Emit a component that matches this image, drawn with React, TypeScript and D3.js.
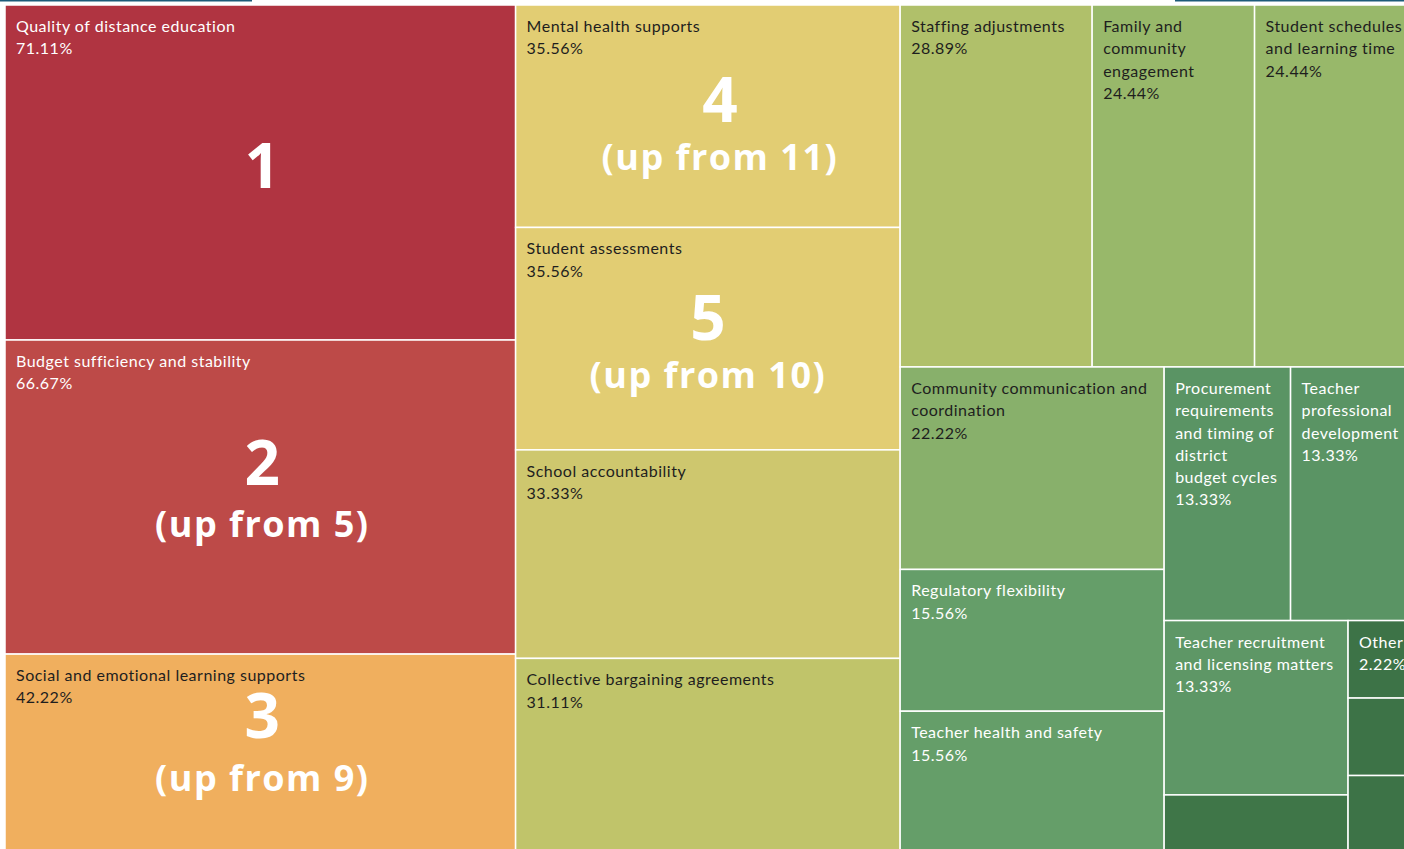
import React from "react";
import * as d3 from "d3";

// ---- data ----
const categories: string[] = [
  "Quality of distance education",
  "Budget sufficiency and stability",
  "Social and emotional learning supports",
  "Mental health supports",
  "Student assessments",
  "School accountability",
  "Collective bargaining agreements",
  "Staffing adjustments",
  "Family and\ncommunity\nengagement",
  "Student schedules\nand learning time",
  "Community communication and\ncoordination",
  "Regulatory flexibility",
  "Teacher health and safety",
  "Procurement\nrequirements\nand timing of\ndistrict\nbudget cycles",
  "Teacher\nprofessional\ndevelopment",
  "Teacher recruitment\nand licensing matters",
  "",
  "Other",
  "",
  "",
];
const shares: number[] = [
  71.11, 66.67, 42.22, 35.56, 35.56, 33.33, 31.11, 28.89, 24.44, 24.44,
  22.22, 15.56, 15.56, 13.33, 13.33, 13.33, 4.44, 2.22, 2.22, 2.22,
];
const fills: string[] = [
  "#b03441", "#bd4a48", "#f0af5e", "#e2cd73", "#e2cd73", "#cec76e", "#c0c46a",
  "#b0c06a", "#98b86a", "#98b86a", "#88b06b", "#659e69", "#659e69", "#5a9464",
  "#5a9464", "#5e9766", "#3f7648", "#3d7347", "#3d7347", "#3d7347",
];
const lightText: boolean[] = [
  true, true, false, false, false, false, false, false, false, false,
  false, true, true, true, true, true, true, true, true, true,
];
const rankCategory: number[] = [0, 1, 2, 3, 4];
const rankLabels: string[] = ["1", "2", "3", "4", "5"];
const upFromLabels: string[] = ["", "(up from 5)", "(up from 9)", "(up from 11)", "(up from 10)"];

// ---- layout / style ----
const W = 1404;
const H = 849;
const X0 = 5;
const Y0 = 5;
const TW = 1412;
const TH = 848;
// baseline offsets relative to cell center (number, second line), and x offset
const rankOffsets = [
  { dx: 2, n: 15, s: 0 },
  { dx: 2, n: -12, s: 40 },
  { dx: 2, n: -16, s: 37 },
  { dx: 12, n: 6, s: 54 },
  { dx: 0, n: 1, s: 49 },
];

type Leaf = { name: string; value: number; idx: number };

export default function App() {
  const leaves: Leaf[] = categories.map((c, i) => ({ name: c, value: shares[i], idx: i }));
  const root = d3
    .hierarchy<any>({ children: leaves })
    .sum((d: any) => (d.children ? 0 : d.value))
    .sort((a, b) => (b.value ?? 0) - (a.value ?? 0));
  d3.treemap<any>().tile(d3.treemapSquarify).size([TW, TH]).round(false)(root);
  const nodes = root.leaves() as d3.HierarchyRectangularNode<any>[];
  const byIdx = new Map<number, d3.HierarchyRectangularNode<any>>();
  nodes.forEach((n) => byIdx.set(n.data.idx, n));
  const fmt = (v: number) => v.toFixed(2) + "%";
  const labelFont = "Lato, 'Noto Sans', sans-serif";
  const bigFont = "'Open Sans', 'Noto Sans', sans-serif";

  return (
    <div style={{ position: "absolute", left: 0, top: 0, width: W, height: H, overflow: "hidden", background: "#fff" }}>
      <svg width={W} height={H} style={{ display: "block" }}>
        <line x1={0} x2={252} y1={0.75} y2={0.75} stroke="#1d5b79" strokeWidth={1.5} />
        <line x1={1175} x2={W} y1={0.75} y2={0.75} stroke="#1d5b79" strokeWidth={1.5} />
        <g transform={`translate(${X0},${Y0})`}>
          {nodes.map((n) => {
            const i = n.data.idx;
            return (
              <rect
                key={"r" + i}
                x={n.x0}
                y={n.y0}
                width={n.x1 - n.x0}
                height={n.y1 - n.y0}
                fill={fills[i]}
                stroke="#ffffff"
                strokeWidth={1.5}
              />
            );
          })}
          {nodes.map((n) => {
            const i = n.data.idx;
            if (!n.data.name) return null;
            const lines = n.data.name.split("\n").concat([fmt(n.data.value)]);
            return (
              <text
                key={"t" + i}
                x={n.x0 + 11}
                y={n.y0 + 27}
                fontFamily={labelFont}
                fontSize={16}
                letterSpacing={0.5}
                fill={lightText[i] ? "#ffffff" : "#1e1e1e"}
              >
                {lines.map((l, k) => (
                  <tspan key={k} x={n.x0 + 11} dy={k === 0 ? 0 : 22.3}>
                    {l}
                  </tspan>
                ))}
              </text>
            );
          })}
          {rankCategory.map((ci, r) => {
            const n = byIdx.get(ci)!;
            const cx = (n.x0 + n.x1) / 2 + rankOffsets[r].dx;
            const cy = (n.y0 + n.y1) / 2;
            return (
              <g key={"k" + r} fill="#ffffff" fontFamily={bigFont} fontWeight={700} textAnchor="middle">
                <text x={cx} y={cy + rankOffsets[r].n} fontSize={62}>
                  {rankLabels[r]}
                </text>
                {upFromLabels[r] && (
                  <text x={cx} y={cy + rankOffsets[r].s} fontSize={36} letterSpacing={1.5}>
                    {upFromLabels[r]}
                  </text>
                )}
              </g>
            );
          })}
        </g>
      </svg>
    </div>
  );
}
